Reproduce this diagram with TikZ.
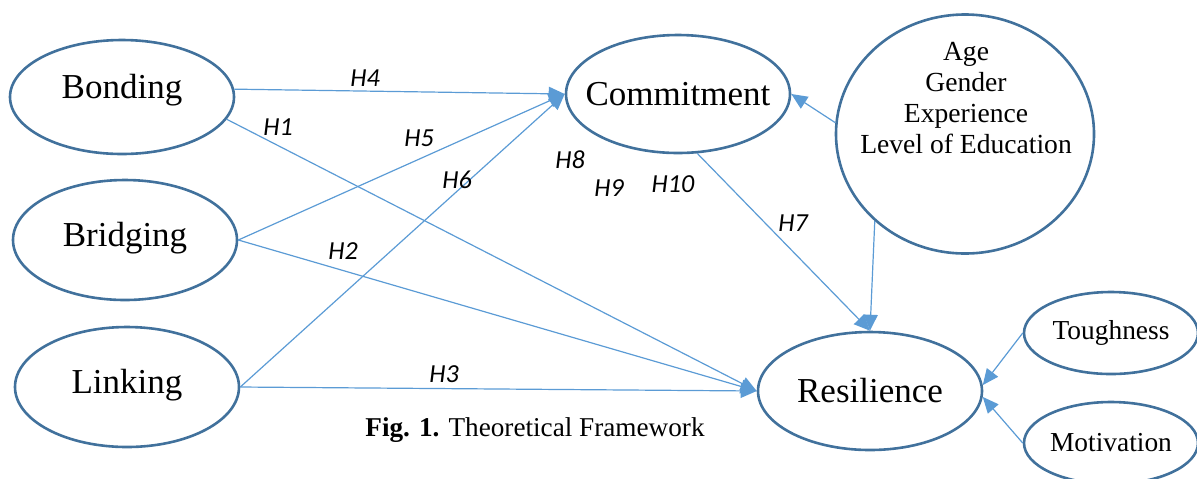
\documentclass[tikz,border=0pt]{standalone}
\usepackage{fontspec}
\setmainfont{Liberation Serif}
\newfontfamily\hypfont{Carlito}
\usetikzlibrary{shapes.geometric,arrows.meta}
\definecolor{varblue}{HTML}{41719C}
\definecolor{lineblue}{HTML}{5B9BD5}

\begin{document}
\begin{tikzpicture}[x=0.5pt, y=-0.5pt,
  var/.style={ellipse, draw=varblue, line width=1.3pt, inner xsep=-8pt, inner ysep=0pt,
    minimum width=112pt, minimum height=59pt, font=\fontsize{17.5}{20}\selectfont},
  smallvar/.style={var, minimum width=87pt, minimum height=41pt, font=\fontsize{13.7}{16}\selectfont},
  link/.style={draw=lineblue, line width=0.6pt, -{Triangle[length=8pt,width=7pt]}},
  hyp/.style={font=\hypfont\itshape\fontsize{13}{15}\selectfont}]
\useasboundingbox (0,0) rectangle (1197,478);

\node [var, minimum height=57pt, text depth=11pt] (bond) at (122,97) {Bonding};
\node [var, minimum height=60pt, text depth=6pt] (bridg) at (125,240) {Bridging};
\node [var, minimum height=60pt, text depth=6pt] (linkg) at (127,387) {Linking};
\node [var] (commit) at (678,94) {Commitment};
\node [var] (resil) at (870,391) {Resilience};
\node [var, minimum width=129pt, minimum height=119.5pt] (ctrl) at (965,134) {};
\node [align=center, font=\fontsize{13.8}{15.5}\selectfont] (ctrltxt) at (966,98)
  {Age\\Gender\\Experience\\Level of Education};
\node [smallvar] (tough) at (1111,333) {Toughness};
\node [smallvar] (motiv) at (1111,443) {Motivation};

\draw [link] (bond.4) -- (commit.west);
\draw [link] (bond.-12) -- (resil.west);
\draw [link] (bridg.east) -- (commit.west);
\draw [link] (bridg.east) -- (resil.west);
\draw [link] (linkg.east) -- (commit.west);
\draw [link] (linkg.east) -- (resil.west);
\draw [link] (commit.-72) -- (resil.north);
\draw [link] (ctrl.175) -- (commit.east);
\draw [link] (ctrl.-136) -- (resil.north);
\draw [link] (tough.west) -- (resil.3);
\draw [link] (motiv.west) -- (resil.-3);

\node [hyp] (h4) at (365,78) {H4};
\node [hyp] (h1) at (278,127) {H1};
\node [hyp] (h5) at (419,138) {H5};
\node [hyp] (h6) at (457,180) {H6};
\node [hyp] (h2) at (343,251) {H2};
\node [hyp] (h3) at (444,374) {H3};
\node [hyp] (h8) at (570,160) {H8};
\node [hyp] (h9) at (609,188) {H9};
\node [hyp] (h10) at (673,184) {H10};
\node [hyp] (h7) at (793,223) {H7};

\node [font=\fontsize{13.6}{16}\selectfont] (caption) at (535,430)
  {\textbf{Fig. 1.} Theoretical Framework};
\end{tikzpicture}
\end{document}
